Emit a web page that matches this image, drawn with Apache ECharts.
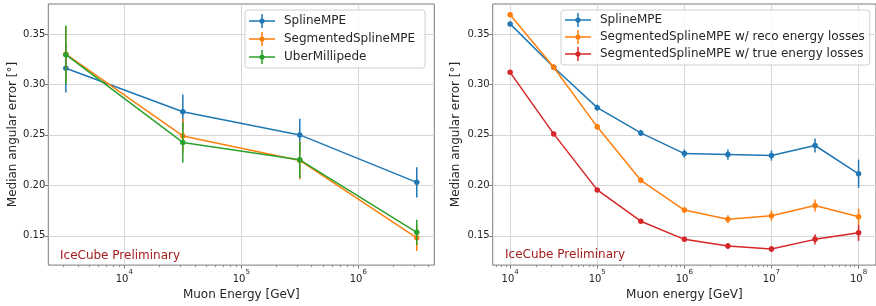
<!DOCTYPE html>
<html>
<head>
<meta charset="utf-8">
<script src="https://cdn.jsdelivr.net/npm/echarts@6/dist/echarts.min.js"></script>
<style>
  html, body { margin: 0; padding: 0; background: #fff; }
  #chart { width: 876px; height: 306px; }
</style>
</head>
<body>
<div id="chart"></div>
<script>
// muon energies in GeV
const leftEnergy = [3162, 31623, 316228, 3162278];
const rightEnergy = [1e4, 31623, 1e5, 316228, 1e6, 3162278, 1e7, 31622777, 1e8];

// left panel: median angular error [deg] and its uncertainty
const leftSpline = [0.316, 0.273, 0.250, 0.203];
const leftSplineErr = [0.024, 0.017, 0.016, 0.015];
const leftSegmented = [0.330, 0.249, 0.2247, 0.148];
const leftSegmentedErr = [0.027, 0.017, 0.019, 0.013];
const leftUber = [0.3295, 0.2425, 0.2253, 0.1535];
const leftUberErr = [0.029, 0.020, 0.018, 0.0125];

// right panel
const rightSpline = [0.360, 0.317, 0.277, 0.252, 0.2315, 0.2305, 0.2295, 0.2395, 0.2115];
const rightSplineErr = [0.002, 0.002, 0.003, 0.003, 0.004, 0.005, 0.005, 0.007, 0.014];
const rightReco = [0.369, 0.317, 0.258, 0.205, 0.1755, 0.1665, 0.170, 0.180, 0.169];
const rightRecoErr = [0.002, 0.003, 0.003, 0.003, 0.003, 0.004, 0.005, 0.006, 0.008];
const rightTrue = [0.312, 0.251, 0.1955, 0.1645, 0.1465, 0.140, 0.137, 0.1465, 0.153];
const rightTrueErr = [0.002, 0.002, 0.002, 0.002, 0.002, 0.003, 0.003, 0.005, 0.008];

// tick labels (x in decades)
const yTicks = [0.15, 0.20, 0.25, 0.30, 0.35];
const leftDecades = [4, 5, 6];
const rightDecades = [4, 5, 6, 7, 8];

const FONT = 'DejaVu Sans';
const TEXT = '#262626';
const FRAME = '#7a7a7a';
const GRIDLINE = '#d6d6d6';
const C = { blue: '#1f77b4', orange: '#ff7f0e', green: '#2ca02c', red: '#d62728' };

const leftRange = [3.35, 6.65];
const rightRange = [3.8, 8.2];
const yRange = [0.121, 0.3797];

function minorTicks(range) {
  const out = [];
  for (let n = Math.floor(range[0]); n <= Math.ceil(range[1]); n++) {
    for (let k = 2; k <= 9; k++) {
      const v = n + Math.log10(k);
      if (v > range[0] && v < range[1]) out.push(v);
    }
  }
  return out;
}

// legend glyph: line + vertical error bar + dot
const ICON = 'path://M0,6.25 H26 V7.75 H0 Z M12.25,0 H13.75 V14 H12.25 Z ' +
  'M10.4,7 A2.6,2.6 0 1 1 15.6,7 A2.6,2.6 0 1 1 10.4,7 Z';

function mainX(grid, range, decades) {
  return {
    type: 'value', gridIndex: grid, position: 'bottom', min: range[0], max: range[1],
    axisLine: { show: false },
    axisTick: { show: true, length: 3.5, customValues: decades, lineStyle: { color: FRAME, width: 1 } },
    axisLabel: {
      customValues: decades, margin: 4,
      formatter: v => '{b|10}{s|' + Math.round(v) + '}',
      rich: {
        b: { fontFamily: FONT, fontSize: 10, color: TEXT, verticalAlign: 'bottom', lineHeight: 15 },
        s: { fontFamily: FONT, fontSize: 7, color: TEXT, verticalAlign: 'top', lineHeight: 8 }
      }
    },
    splitLine: { show: true, lineStyle: { color: GRIDLINE, width: 1 } },
    nameLocation: 'middle', nameGap: 16,
    nameTextStyle: { fontFamily: FONT, fontSize: 12, color: TEXT }
  };
}

function minorX(grid, range) {
  return {
    type: 'value', gridIndex: grid, position: 'bottom', min: range[0], max: range[1],
    axisLine: { show: false },
    axisTick: { show: true, length: 2, customValues: minorTicks(range), lineStyle: { color: FRAME, width: 0.8 } },
    axisLabel: { show: false },
    splitLine: { show: false }
  };
}

function yAxis(grid, gap) {
  return {
    type: 'value', gridIndex: grid, min: yRange[0], max: yRange[1],
    name: 'Median angular error [°]', nameLocation: 'middle', nameGap: gap,
    nameTextStyle: { fontFamily: FONT, fontSize: 12, color: TEXT },
    axisLine: { show: false },
    axisTick: { show: true, length: 3.5, customValues: yTicks, lineStyle: { color: FRAME, width: 1 } },
    axisLabel: {
      customValues: yTicks, margin: 3, formatter: v => v.toFixed(2),
      fontFamily: FONT, fontSize: 10, color: TEXT
    },
    splitLine: { show: true, lineStyle: { color: GRIDLINE, width: 1 } }
  };
}

function points(energy, vals, errs) {
  return energy.map((e, i) => errs ? [Math.log10(e), vals[i], errs[i]] : [Math.log10(e), vals[i]]);
}

function addSeries(list, name, color, xIdx, yIdx, energy, vals, errs) {
  list.push({
    type: 'custom', name: name + ' err', xAxisIndex: xIdx, yAxisIndex: yIdx,
    data: points(energy, vals, errs), encode: { x: 0, y: 1 }, silent: true,
    z: 2 + list.length,
    renderItem: (params, api) => {
      const x = api.value(0), y = api.value(1), e = api.value(2);
      const lo = api.coord([x, y - e]);
      const hi = api.coord([x, y + e]);
      return {
        type: 'line',
        shape: { x1: lo[0], y1: lo[1], x2: hi[0], y2: hi[1] },
        style: { stroke: color, lineWidth: 1.5 }
      };
    }
  });
  list.push({
    type: 'line', name: name, xAxisIndex: xIdx, yAxisIndex: yIdx,
    data: points(energy, vals), symbol: 'circle', symbolSize: 5.5,
    z: 2 + list.length,
    lineStyle: { color: color, width: 1.5 }, itemStyle: { color: color },
    emphasis: { disabled: true }
  });
}

const series = [];
addSeries(series, 'SplineMPE', C.blue, 0, 0, leftEnergy, leftSpline, leftSplineErr);
addSeries(series, 'SegmentedSplineMPE', C.orange, 0, 0, leftEnergy, leftSegmented, leftSegmentedErr);
addSeries(series, 'UberMillipede', C.green, 0, 0, leftEnergy, leftUber, leftUberErr);
addSeries(series, 'SplineMPE', C.blue, 2, 1, rightEnergy, rightSpline, rightSplineErr);
addSeries(series, 'SegmentedSplineMPE w/ reco energy losses', C.orange, 2, 1, rightEnergy, rightReco, rightRecoErr);
addSeries(series, 'SegmentedSplineMPE w/ true energy losses', C.red, 2, 1, rightEnergy, rightTrue, rightTrueErr);

function legendItem(name, color) {
  return { name: name, icon: ICON, itemStyle: { color: color, borderWidth: 0 } };
}

const legendBase = {
  orient: 'vertical', itemWidth: 26, itemHeight: 14,
  backgroundColor: 'rgba(255,255,255,0.85)', borderColor: '#cfcfcf', borderWidth: 1, borderRadius: 3,
  textStyle: { fontFamily: FONT, fontSize: 12, color: TEXT, padding: [0, 0, 0, 4] },
  selectedMode: false
};

const xLeft = mainX(0, leftRange, leftDecades);
xLeft.name = 'Muon Energy [GeV]';
const xRight = mainX(1, rightRange, rightDecades);
xRight.name = 'Muon energy [GeV]';

const option = {
  animation: false,
  backgroundColor: '#ffffff',
  grid: [
    { left: 48.3, top: 4, width: 386, height: 265.3, show: true, borderColor: FRAME, borderWidth: 1, backgroundColor: 'transparent' },
    { left: 492.7, top: 4, width: 384, height: 264.3, show: true, borderColor: FRAME, borderWidth: 1, backgroundColor: 'transparent' }
  ],
  xAxis: [xLeft, minorX(0, leftRange), xRight, minorX(1, rightRange)],
  yAxis: [yAxis(0, 28), yAxis(1, 31)],
  legend: [
    Object.assign({}, legendBase, {
      left: 245, top: 10, itemGap: 4, padding: [4, 10, 4, 4],
      data: [legendItem('SplineMPE', C.blue), legendItem('SegmentedSplineMPE', C.orange), legendItem('UberMillipede', C.green)]
    }),
    Object.assign({}, legendBase, {
      left: 561, top: 10, itemGap: 3, padding: [3, 5, 4, 4],
      data: [legendItem('SplineMPE', C.blue),
        legendItem('SegmentedSplineMPE w/ reco energy losses', C.orange),
        legendItem('SegmentedSplineMPE w/ true energy losses', C.red)]
    })
  ],
  graphic: [
    { type: 'text', left: 60, top: 250, z: 50,
      style: { text: 'IceCube Preliminary', fontFamily: FONT, fontSize: 12, fill: '#a31c1c' } },
    { type: 'text', left: 505, top: 249, z: 50,
      style: { text: 'IceCube Preliminary', fontFamily: FONT, fontSize: 12, fill: '#a31c1c' } }
  ],
  series: series
};

const chart = echarts.init(document.getElementById('chart'), null, { renderer: 'canvas' });
chart.setOption(option);
</script>
</body>
</html>
